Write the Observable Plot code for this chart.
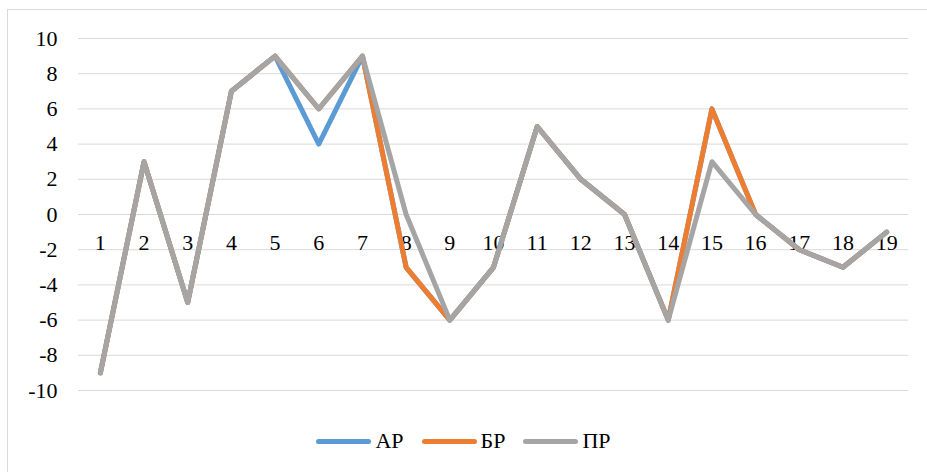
<!DOCTYPE html>
<html>
<head>
<meta charset="utf-8">
<script src="https://cdn.jsdelivr.net/npm/d3@7"></script>
<script src="https://cdn.jsdelivr.net/npm/@observablehq/plot@0.6"></script>
<style>
  body { margin: 0; background: #fff; font-family: "Liberation Serif", serif; }
  #frame { position: absolute; left: 7px; top: 9px; width: 930px; height: 480px; border: 1px solid #d9d9d9; box-sizing: border-box; pointer-events: none; }
  #chart { position: absolute; left: 0; top: 0; }
  #chart svg text { font-family: "Liberation Serif", serif; font-size: 22px; }
  #legend { position: absolute; left: 0; top: 430px; width: 927px; display: flex; justify-content: center; align-items: center; font-size: 22px; line-height: 22px; color: #000; }
  .item { display: flex; align-items: center; margin: 0 9px; }
  .sw { display: inline-block; width: 55px; height: 5px; border-radius: 3px; margin-right: 4px; }
</style>
</head>
<body>
<div id="frame"></div>
<div id="chart"></div>
<div id="legend"></div>
<script>
const categories = [1,2,3,4,5,6,7,8,9,10,11,12,13,14,15,16,17,18,19];
const seriesNames = ["АР", "БР", "ПР"];
const seriesColors = ["#5B9BD5", "#ED7D31", "#A5A5A5"];
const valuesAR = [-9, 3, -5, 7, 9, 4, 9, -3, -6, -3, 5, 2, 0, -6, 6, 0, -2, -3, -1];
const valuesBR = [-9, 3, -5, 7, 9, 6, 9, -3, -6, -3, 5, 2, 0, -6, 6, 0, -2, -3, -1];
const valuesPR = [-9, 3, -5, 7, 9, 6, 9, 0, -6, -3, 5, 2, 0, -6, 3, 0, -2, -3, -1];
const yTicks = [-10, -8, -6, -4, -2, 0, 2, 4, 6, 8, 10];

const allSeries = [valuesAR, valuesBR, valuesPR];
const data = [];
allSeries.forEach((vals, si) => {
  vals.forEach((v, i) => data.push({series: seriesNames[si], x: categories[i], y: v}));
});

const chart = Plot.plot({
  width: 927,
  height: 420,
  marginLeft: 78,
  marginRight: 19,
  marginTop: 38,
  marginBottom: 30,
  style: { fontFamily: "Liberation Serif", fontSize: "22px", color: "#000", background: "transparent" },
  x: { type: "point", domain: categories, padding: 0.5, round: false, axis: null },
  y: { domain: [-10, 10], label: null },
  color: { domain: seriesNames, range: seriesColors },
  marks: [
    Plot.gridY(yTicks, { stroke: "#d9d9d9", strokeOpacity: 1, strokeWidth: 1 }),
    Plot.axisY(yTicks, { tickSize: 0, tickPadding: 21, fontSize: 22, tickFormat: d => String(d), label: null }),
    Plot.text(categories, { x: d => d, y: () => 0, text: d => String(d), dy: 28, fontSize: 22, fill: "#000" }),
    Plot.line(data, { x: "x", y: "y", z: "series", stroke: "series", strokeWidth: 5, strokeLinejoin: "round", strokeLinecap: "round" })
  ]
});
document.getElementById("chart").appendChild(chart);

const legend = document.getElementById("legend");
seriesNames.forEach((name, i) => {
  const item = document.createElement("div");
  item.className = "item";
  const sw = document.createElement("span");
  sw.className = "sw";
  sw.style.background = seriesColors[i];
  const lab = document.createElement("span");
  lab.textContent = name;
  item.appendChild(sw);
  item.appendChild(lab);
  legend.appendChild(item);
});
</script>
</body>
</html>
